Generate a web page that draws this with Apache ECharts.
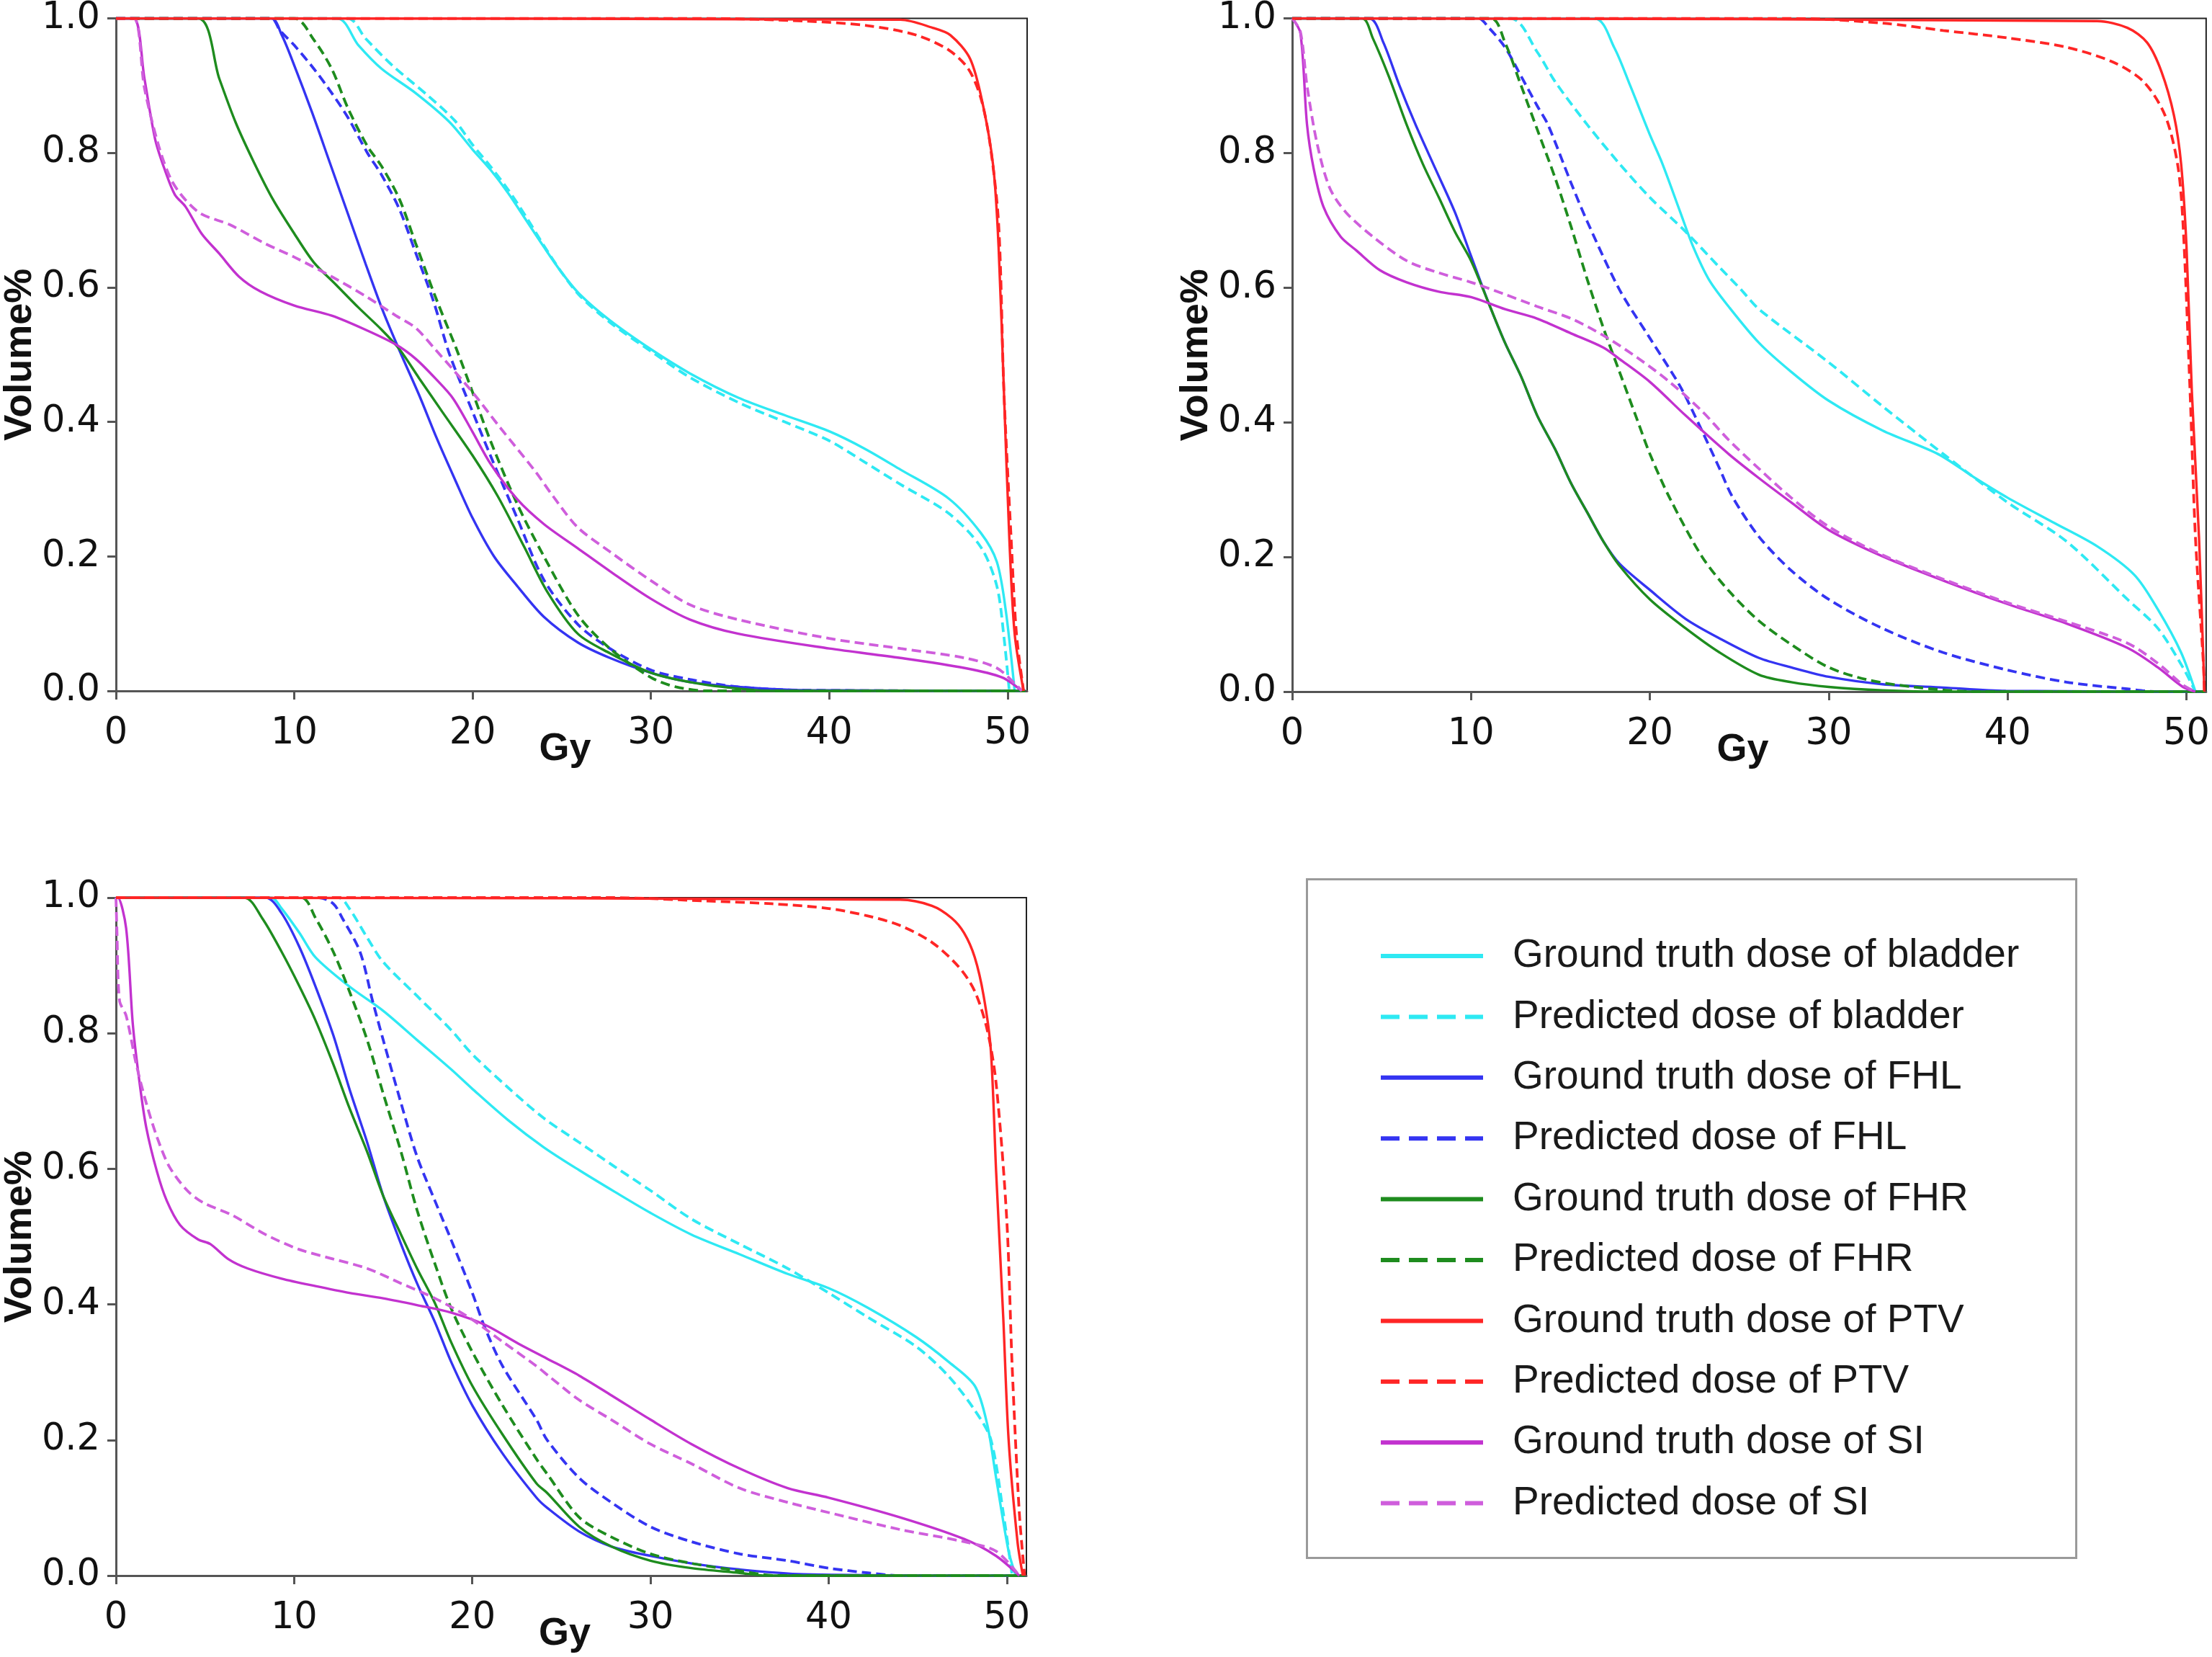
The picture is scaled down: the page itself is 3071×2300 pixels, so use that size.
<!DOCTYPE html>
<html>
<head>
<meta charset="utf-8">
<script src="https://cdn.jsdelivr.net/npm/echarts@6/dist/echarts.min.js"></script>
<style>
html,body{margin:0;padding:0;background:#fff;}
#chart{width:3071px;height:2300px;}
</style>
</head>
<body>
<div id="chart"></div>
<script>
// ---------- DATA (dose Gy, volume fraction) ----------
const seriesNames = ['Ground truth dose of bladder','Predicted dose of bladder','Ground truth dose of FHL','Predicted dose of FHL','Ground truth dose of FHR','Predicted dose of FHR','Ground truth dose of PTV','Predicted dose of PTV','Ground truth dose of SI','Predicted dose of SI'];
const xTicks = [0,10,20,30,40,50];
const yTicks = [0.0,0.2,0.4,0.6,0.8,1.0];

// Panel 1 (top left)
const p1_bladder_gt = [[0,1],[12.4,1],[13.6,0.96],[14.9,0.925],[16.8,0.889],[18.7,0.846],[20,0.805],[21,0.775],[22,0.74],[23,0.7],[24,0.66],[25,0.622],[26,0.59],[27.7,0.551],[30,0.508],[32.2,0.472],[34.9,0.436],[37.5,0.41],[40,0.386],[42,0.36],[44,0.329],[46.7,0.286],[48.5,0.235],[49.4,0.192],[49.9,0.12],[50.4,0]];
const p1_bladder_pr = [[0,1],[13.0,1],[14.0,0.97],[15.5,0.93],[17.5,0.885],[19,0.848],[20,0.812],[21,0.78],[22,0.745],[23,0.705],[24,0.662],[25,0.622],[26,0.588],[27.7,0.548],[30,0.505],[32.2,0.466],[34.9,0.429],[37.5,0.4],[40,0.372],[42,0.34],[44,0.307],[46.7,0.264],[48.5,0.214],[49.4,0.156],[49.8,0.08],[50.1,0]];
const p1_fhl_gt = [[0,1],[8.7,1],[9.3,0.975],[10,0.93],[11,0.86],[12,0.785],[13,0.71],[14,0.635],[15,0.563],[16,0.5],[17,0.44],[18,0.375],[19,0.315],[20,0.257],[21.2,0.2],[22.5,0.156],[24,0.11],[25.9,0.072],[27.7,0.049],[30,0.027],[32.2,0.013],[34.9,0.006],[38.6,0.001],[51,0]];
const p1_fhl_pr = [[0,1],[8.7,1],[9.2,0.982],[10,0.96],[11.1,0.925],[12.1,0.889],[13,0.853],[14.1,0.8],[14.9,0.767],[15.9,0.716],[16.8,0.652],[17.8,0.58],[18.7,0.501],[20,0.415],[21,0.35],[22.5,0.257],[24,0.165],[25.9,0.099],[27.7,0.063],[30,0.031],[32.2,0.017],[34.9,0.006],[38.6,0.001],[51,0]];
const p1_fhr_gt = [[0,1],[4.6,1],[5.8,0.91],[6.7,0.846],[7.7,0.788],[8.8,0.731],[10,0.68],[11.1,0.637],[12.3,0.605],[13.6,0.57],[14.9,0.537],[15.9,0.508],[17,0.465],[18.3,0.415],[20,0.35],[21.4,0.29],[22.9,0.214],[24.2,0.147],[25.9,0.085],[27.7,0.056],[30,0.027],[32.2,0.013],[34,0.006],[36.8,0],[51,0]];
const p1_fhr_pr = [[0,1],[10,1],[11.1,0.968],[12.1,0.925],[13,0.867],[14.1,0.81],[14.9,0.78],[15.9,0.731],[16.8,0.666],[17.9,0.587],[19.1,0.508],[20,0.444],[21,0.372],[22.5,0.278],[24,0.2],[25.9,0.113],[27.7,0.063],[30,0.02],[31.4,0.006],[33.2,0],[51,0]];
const p1_ptv_gt = [[0,1],[44,0.998],[45.8,0.986],[46.8,0.975],[47.9,0.94],[48.6,0.874],[49.2,0.78],[49.5,0.66],[49.8,0.444],[50.1,0.228],[50.4,0.085],[50.9,0]];
const p1_ptv_pr = [[0,1],[33,1],[38.6,0.996],[42.2,0.989],[44.9,0.975],[46.7,0.953],[47.8,0.925],[48.5,0.882],[49,0.817],[49.5,0.695],[49.8,0.444],[50.2,0.228],[50.5,0.085],[50.9,0]];
const p1_si_gt = [[0,1],[1,1],[1.6,0.91],[2.2,0.82],[2.75,0.774],[3.3,0.738],[3.9,0.72],[4.8,0.68],[5.8,0.65],[6.9,0.616],[8.1,0.594],[10,0.573],[12.1,0.558],[14,0.537],[15.7,0.515],[16.8,0.494],[17.9,0.465],[18.9,0.435],[20,0.385],[21,0.338],[22.5,0.285],[24,0.248],[25.9,0.212],[27.7,0.178],[30,0.137],[32.2,0.106],[34.9,0.085],[40,0.063],[44,0.049],[47.6,0.034],[49.7,0.02],[50.8,0]];
const p1_si_pr = [[0,1],[1,1],[1.6,0.896],[2.4,0.81],[3.1,0.76],[3.9,0.73],[4.8,0.709],[6.4,0.693],[8.3,0.666],[10,0.645],[12.1,0.616],[14,0.587],[15.7,0.558],[16.8,0.54],[17.9,0.508],[20,0.444],[21.5,0.393],[23.5,0.327],[24.5,0.29],[25.9,0.243],[27.7,0.207],[30,0.164],[32.2,0.128],[34.9,0.106],[40,0.078],[44,0.063],[47.6,0.049],[49.4,0.034],[50.6,0.006],[50.8,0]];

// Panel 2 (top right)
const p2_bladder_gt = [[0,1],[16.9,1],[18,0.957],[18.9,0.9],[20,0.827],[20.7,0.784],[21.7,0.712],[22.4,0.662],[23.3,0.612],[24.4,0.572],[26.1,0.518],[27.9,0.475],[30,0.432],[33,0.388],[36.1,0.353],[38.2,0.317],[40,0.288],[42.5,0.252],[45,0.216],[47.1,0.173],[48.4,0.122],[49.7,0.058],[50.5,0]];
const p2_bladder_pr = [[0,1],[12.2,1],[13.7,0.95],[14.7,0.906],[16.5,0.842],[18.3,0.784],[20,0.734],[22,0.683],[23.9,0.63],[25.1,0.597],[26.1,0.568],[30,0.489],[33,0.424],[36.4,0.353],[40,0.281],[43.3,0.223],[46.7,0.137],[48.4,0.094],[49.8,0.036],[50.5,0]];
const p2_fhl_gt = [[0,1],[4.3,1],[5.1,0.964],[6,0.9],[6.9,0.842],[8,0.777],[9.1,0.712],[10,0.647],[11,0.576],[11.9,0.518],[12.8,0.468],[13.7,0.41],[14.7,0.36],[15.6,0.309],[16.5,0.266],[17.4,0.223],[18.3,0.19],[20,0.151],[22,0.108],[23.9,0.079],[26.1,0.05],[27.9,0.036],[30,0.022],[33,0.011],[36.4,0.006],[39.9,0.001],[51,0]];
const p2_fhl_pr = [[0,1],[10.4,1],[11,0.986],[11.9,0.957],[12.8,0.914],[13.7,0.87],[14.3,0.842],[15.6,0.755],[16.5,0.698],[18.3,0.597],[20,0.525],[21.7,0.453],[22.9,0.388],[23.9,0.331],[24.6,0.29],[26.1,0.23],[27.9,0.18],[30,0.137],[33,0.094],[36.4,0.058],[40,0.032],[43.3,0.014],[46.7,0.004],[48.4,0],[51,0]];
const p2_fhr_gt = [[0,1],[3.9,1],[4.5,0.971],[5.4,0.914],[6.4,0.842],[7.3,0.784],[8.2,0.734],[9.1,0.683],[10,0.64],[11,0.576],[11.9,0.518],[12.8,0.468],[13.7,0.41],[14.7,0.36],[15.6,0.309],[16.5,0.266],[17.4,0.223],[18.3,0.187],[20,0.137],[22,0.094],[23.9,0.058],[26.1,0.025],[27.9,0.014],[30,0.007],[33,0.002],[36.4,0],[51,0]];
const p2_fhr_pr = [[0,1],[11.1,1],[11.9,0.964],[12.8,0.9],[13.7,0.835],[14.7,0.763],[15.6,0.69],[16.5,0.612],[17.4,0.54],[18.3,0.475],[19.3,0.403],[20,0.353],[21.1,0.288],[22.9,0.201],[24.4,0.15],[26.1,0.105],[27.9,0.07],[30,0.036],[32.1,0.018],[34.7,0.007],[38.2,0],[51,0]];
const p2_ptv_gt = [[0,1],[45,0.996],[46.7,0.986],[47.8,0.964],[48.6,0.921],[49.3,0.856],[49.7,0.784],[50,0.662],[50.3,0.446],[50.7,0.23],[50.95,0.043],[51,0]];
const p2_ptv_pr = [[0,1],[27.9,1],[33,0.993],[36.4,0.982],[40,0.971],[43.3,0.957],[45.9,0.935],[47.6,0.906],[48.8,0.856],[49.5,0.784],[49.8,0.698],[50.2,0.446],[50.5,0.23],[50.95,0.04],[51,0]];
const p2_si_gt = [[0,1],[0.46,0.978],[0.83,0.842],[1.2,0.777],[1.75,0.72],[2.7,0.676],[3.6,0.655],[4.9,0.626],[6.4,0.608],[8.2,0.594],[10,0.586],[11.9,0.568],[13.7,0.554],[15.6,0.532],[17.4,0.511],[18.3,0.494],[20,0.46],[22,0.41],[24.4,0.353],[26.1,0.317],[27.9,0.281],[30,0.24],[33,0.201],[36.4,0.165],[40,0.13],[43.3,0.101],[46.7,0.065],[48.4,0.036],[49.8,0.007],[50.5,0]];
const p2_si_pr = [[0,1],[0.46,0.98],[0.83,0.9],[1.4,0.813],[2.1,0.748],[3,0.712],[4.5,0.676],[6.4,0.64],[8.2,0.622],[10,0.608],[11.9,0.59],[13.7,0.572],[15.6,0.554],[17.4,0.529],[19.3,0.496],[21.1,0.46],[22.9,0.417],[24.4,0.374],[26.1,0.331],[27.9,0.288],[30,0.245],[33,0.203],[36.4,0.167],[40,0.132],[43.3,0.104],[46.7,0.072],[48.4,0.042],[49.8,0.01],[50.5,0]];

// Panel 3 (bottom left)
const p3_bladder_gt = [[0,1],[8.7,1],[9.3,0.984],[10.3,0.948],[11.2,0.912],[13.1,0.869],[15,0.833],[16.9,0.79],[18.8,0.747],[20,0.718],[22,0.672],[24,0.632],[26,0.598],[28,0.566],[30,0.535],[32.3,0.503],[35,0.474],[37.7,0.445],[40,0.424],[42.2,0.395],[44.9,0.352],[46.7,0.316],[48.2,0.28],[48.9,0.223],[49.4,0.144],[50.1,0.036],[50.5,0]];
const p3_bladder_pr = [[0,1],[12.5,1],[13.1,0.984],[14.1,0.941],[15,0.905],[16.9,0.855],[18.8,0.805],[20,0.769],[22,0.72],[24,0.675],[26,0.639],[28,0.603],[30,0.568],[32.3,0.526],[35,0.489],[37.7,0.453],[40,0.417],[42.2,0.381],[44.9,0.338],[46.7,0.295],[48.2,0.244],[49.1,0.201],[49.8,0.093],[50.3,0]];
const p3_fhl_gt = [[0,1],[8.4,1],[9.3,0.977],[10.3,0.927],[11.2,0.869],[12.2,0.797],[13.1,0.718],[14.1,0.639],[15,0.56],[16,0.489],[16.9,0.431],[17.9,0.374],[18.8,0.316],[20,0.251],[21.7,0.18],[23.6,0.115],[24.2,0.1],[26,0.065],[27.8,0.043],[30,0.029],[32.3,0.018],[35,0.009],[38.6,0.002],[51,0]];
const p3_fhl_pr = [[0,1],[11.4,1],[12.2,0.991],[12.7,0.97],[13.7,0.92],[14.4,0.848],[15,0.79],[16,0.697],[16.9,0.618],[17.9,0.553],[18.8,0.496],[20,0.417],[20.7,0.366],[21.7,0.309],[23.6,0.23],[24.2,0.2],[26,0.144],[27.8,0.108],[30,0.072],[32.3,0.05],[35,0.032],[37.7,0.022],[40,0.011],[42.2,0.004],[44,0],[51,0]];
const p3_fhr_gt = [[0,1],[7.2,1],[8.2,0.97],[9.3,0.92],[10.3,0.869],[11.2,0.819],[12.2,0.754],[13.1,0.69],[14.1,0.625],[15,0.56],[16,0.503],[16.9,0.453],[17.9,0.402],[18.8,0.345],[20,0.28],[21.7,0.208],[23.6,0.136],[24.2,0.122],[26,0.072],[27.8,0.043],[30,0.022],[32.3,0.011],[35,0.004],[36.5,0],[51,0]];
const p3_fhr_pr = [[0,1],[10.4,1],[11.2,0.97],[12.2,0.92],[13.1,0.862],[14.1,0.79],[15,0.711],[16,0.625],[16.9,0.539],[17.9,0.46],[18.8,0.395],[20,0.33],[21.7,0.251],[23.6,0.172],[24.2,0.15],[26,0.086],[27.8,0.057],[30,0.032],[32.3,0.018],[35,0.007],[37,0],[51,0]];
const p3_ptv_gt = [[0,1],[44,0.997],[45.8,0.988],[46.9,0.97],[47.6,0.948],[48.2,0.912],[48.7,0.855],[49.1,0.776],[49.4,0.596],[49.8,0.381],[50.1,0.201],[50.6,0.05],[50.9,0]];
const p3_ptv_pr = [[0,1],[27.8,1],[33.2,0.995],[36.8,0.991],[40,0.984],[42.2,0.973],[44,0.959],[45.8,0.934],[47.3,0.898],[48.2,0.862],[48.9,0.805],[49.4,0.726],[50,0.524],[50.3,0.309],[50.7,0.093],[51,0]];
const p3_si_gt = [[0,1],[0.1,1],[0.57,0.955],[0.95,0.812],[1.33,0.726],[1.7,0.661],[2.3,0.596],[2.85,0.553],[3.6,0.517],[4.6,0.496],[5.3,0.489],[6.3,0.467],[7.4,0.453],[9.3,0.438],[11.2,0.427],[13.1,0.417],[15,0.409],[16.9,0.399],[18.8,0.388],[20.7,0.37],[22.6,0.342],[24.2,0.32],[26,0.295],[27.8,0.266],[30,0.23],[32.3,0.194],[35,0.158],[37.7,0.129],[40,0.115],[44,0.086],[47.6,0.054],[49.4,0.029],[50.7,0]];
const p3_si_pr = [[0,1],[0.05,0.955],[0.2,0.848],[0.57,0.826],[1.14,0.754],[1.7,0.697],[2.3,0.647],[3,0.603],[4,0.568],[4.9,0.55],[6.5,0.532],[8.4,0.503],[10.3,0.481],[12.2,0.467],[14.1,0.453],[16,0.431],[17.9,0.409],[19.8,0.381],[21.7,0.345],[23.6,0.309],[24.4,0.292],[26,0.259],[27.8,0.23],[30,0.194],[32.3,0.165],[35,0.129],[37.7,0.108],[40,0.093],[44,0.068],[47.6,0.05],[49.4,0.036],[50.7,0]];

const panelData = [
  [p1_bladder_gt,p1_bladder_pr,p1_fhl_gt,p1_fhl_pr,p1_fhr_gt,p1_fhr_pr,p1_ptv_gt,p1_ptv_pr,p1_si_gt,p1_si_pr],
  [p2_bladder_gt,p2_bladder_pr,p2_fhl_gt,p2_fhl_pr,p2_fhr_gt,p2_fhr_pr,p2_ptv_gt,p2_ptv_pr,p2_si_gt,p2_si_pr],
  [p3_bladder_gt,p3_bladder_pr,p3_fhl_gt,p3_fhl_pr,p3_fhr_gt,p3_fhr_pr,p3_ptv_gt,p3_ptv_pr,p3_si_gt,p3_si_pr]
];

// ---------- STYLE ----------
const colors = ['#2ee9f3','#2ee9f3','#3434f2','#3434f2','#1e8c1e','#1e8c1e','#ff2525','#ff2525','#c232cf','#cf5edc'];
const grids = [
  {left:161, top:17, width:1265, height:942},
  {left:1794, top:20, width:1271, height:940},
  {left:159, top:1246, width:1266, height:941}
];
const labelFont = 'DejaVu Sans';
const nameFont = 'Liberation Sans';

const xAxes = grids.map((g,i)=>({
  type:'value', gridIndex:i, min:0, max:51.1, interval:10,
  name:'Gy', nameLocation:'middle', nameGap:54, nameMoveOverlap:false,
  nameTextStyle:{fontFamily:nameFont, fontWeight:'bold', fontSize:54, color:'#111', padding:[0,18,0,0]},
  axisLine:{show:true, lineStyle:{color:'#555', width:3}},
  axisTick:{show:true, length:12, lineStyle:{color:'#555', width:3}},
  axisLabel:{fontFamily:labelFont, fontSize:51, color:'#111', margin:34, showMaxLabel:false,
    formatter:v=> xTicks.indexOf(v)>=0 ? String(v) : ''},
  splitLine:{show:false}
}));
const yAxes = grids.map((g,i)=>({
  type:'value', gridIndex:i, min:0, max:1, interval:0.2,
  name:'Volume%', nameLocation:'middle', nameGap:106, nameMoveOverlap:false,
  nameTextStyle:{fontFamily:nameFont, fontWeight:'bold', fontSize:54, color:'#111'},
  axisLine:{show:true, lineStyle:{color:'#555', width:3}},
  axisTick:{show:true, length:12, lineStyle:{color:'#555', width:3}},
  axisLabel:{fontFamily:labelFont, fontSize:51, color:'#111', margin:22,
    formatter:v=>v.toFixed(1)},
  splitLine:{show:false}
}));

const series = [];
panelData.forEach((arr,pi)=>{
  arr.forEach((d,si)=>{
    const dashed = si % 2 === 1;
    series.push({
      type:'line', name:seriesNames[si], xAxisIndex:pi, yAxisIndex:pi,
      data:d, symbol:'none', smooth:0.3,
      z: si>=6 && si<8 ? 5 : 3,
      lineStyle:{color:colors[si], width: dashed ? 3.8 : 3.4, type: dashed ? [13,7] : 'solid'},
      itemStyle:{color:colors[si]},
      emphasis:{disabled:true}, silent:true
    });
  });
});

const legendData = seriesNames.map((n,i)=>({
  name:n,
  lineStyle:{width:6, type: i%2===1 ? [26,13] : 'solid'},
  itemStyle:{opacity:0, borderWidth:0}
}));

const option = {
  backgroundColor:'#ffffff',
  animation:false,
  grid: grids.map(g=>Object.assign({show:true, borderColor:'#222', borderWidth:2, backgroundColor:'transparent'}, g)),
  xAxis: xAxes,
  yAxis: yAxes,
  series: series,
  legend:{
    data: legendData, orient:'vertical', left:1909, top:1292,
    itemWidth:142, itemHeight:20, itemGap:24.4, selectedMode:false,
    itemStyle:{opacity:0, borderWidth:0},
    textStyle:{fontFamily:nameFont, fontSize:55, color:'#1a1a1a', lineHeight:60, padding:[0,0,0,36]}
  },
  graphic:[{
    type:'rect', left:1812, top:1218, z:-1,
    shape:{width:1068, height:942},
    style:{fill:'none', stroke:'#9a9a9a', lineWidth:3}
  }]
};

const chart = echarts.init(document.getElementById('chart'), null, {renderer:'canvas'});
chart.setOption(option);
</script>
</body>
</html>
